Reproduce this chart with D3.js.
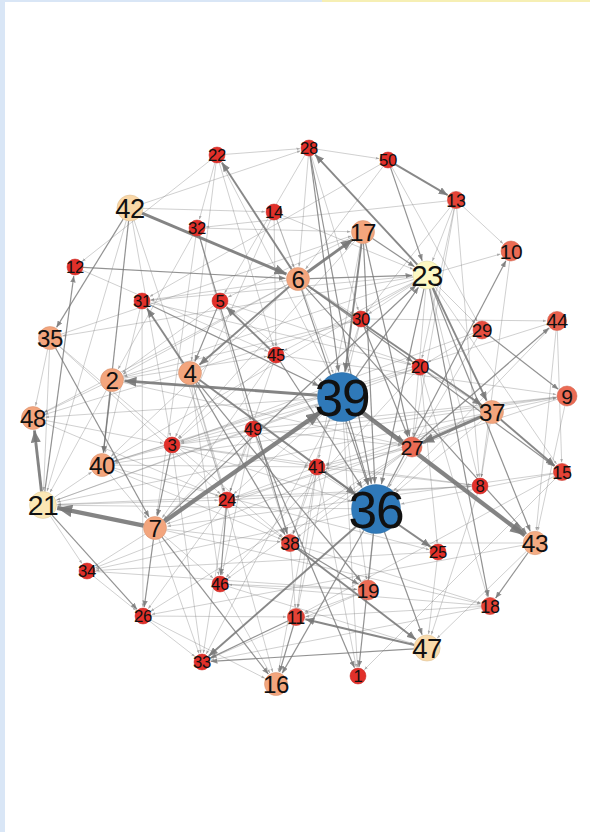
<!DOCTYPE html>
<html>
<head>
<meta charset="utf-8">
<script src="https://cdn.jsdelivr.net/npm/d3@7"></script>
<style>
  body { margin: 0; background: #fff; }
  svg { display: block; }
  .label { font-family: "Liberation Sans", Arial, sans-serif; fill: #111; text-anchor: middle; }
</style>
</head>
<body>
<div id="graph"></div>
<script>
var width = 590,
    height = 832;

// node layout, one entry per node id 1..50
var nodeIds = d3.range(1, 51);
var nodeX = [358, 112, 172, 190, 220, 298, 155, 480, 567, 511,
             296,  75, 456, 274, 562, 276, 363, 490, 368, 420,
              43, 217, 427, 227, 438, 143, 412, 309, 482, 361,
             142, 197, 202,  87,  50, 376, 492, 290, 342, 102,
             317, 130, 535, 557, 276, 220, 427,  33, 253, 388];
var nodeY = [676, 380, 445, 373, 301, 279, 528, 486, 396, 251,
             617, 267, 200, 212, 472, 684, 232, 606, 590, 367,
             505, 155, 275, 500, 552, 616, 447, 148, 330, 319,
             301, 228, 662, 571, 338, 509, 412, 543, 397, 465,
             467, 208, 543, 321, 355, 584, 648, 418, 429, 160];
// centrality score: drives colour, size and label size
var nodeScore = [1, 3, 1, 3, 1, 3, 3, 1, 2, 2,
                 1.3, 1, 1.3, 1, 1.3, 3, 3, 1.3, 2, 1,
                 5, 1, 5.5, 1, 1, 1, 2, 1, 1.5, 1,
                 1, 1, 1, 1, 3, 10, 3, 1.3, 10, 3,
                 1, 4.5, 3.2, 1.8, 1, 1, 4.6, 3, 1, 1];

// directed edges: source, target, weight
var edgeSource = [
  42,42,42,42,42,42,42,42,
  6,22,22,22,22,22,22,
  23,28,28,28,28,28,28,
  50,50,50,50,50,
  13,13,13,13,13,13,13,
  14,14,14,14,14,
  32,32,32,32,32,
  6,17,17,17,17,17,17,17,35,
  36,23,10,
  6,12,6,6,6,6,6,6,6,6,6,6,
  39,7,23,23,23,23,23,23,23,23,23,23,23,23,23,23,
  21,12,
  4,31,31,31,31,
  45,5,5,5,5,
  30,30,30,30,30,30,
  29,29,29,29,
  27,44,44,44,44,
  35,35,35,35,35,
  45,45,45,45,45,
  4,4,4,4,4,4,
  39,2,2,2,2,2,
  7,39,39,39,39,39,39,39,39,39,39,
  20,20,20,20,20,20,20,
  37,37,37,37,37,37,37,37,37,
  9,9,9,9,
  21,48,48,
  49,49,49,49,49,49,49,49,
  3,3,3,3,3,3,
  27,27,27,27,27,
  40,40,40,40,
  41,41,41,41,41,41,
  8,8,8,
  15,15,15,15,
  7,21,21,21,21,21,
  36,36,36,36,36,36,36,36,36,
  24,24,24,24,24,
  7,7,7,7,7,7,7,
  43,43,43,43,
  38,38,38,38,
  25,25,34,34,46,46,46,19,19,26,26,26,18,18,18,
  47,11,11,47
];
var edgeTarget = [
  6,35,40,3,24,28,14,21,
  22,28,32,45,39,12,4,
  28,39,30,6,5,36,50,
  13,23,6,31,29,
  30,23,10,20,8,32,27,
  3,6,39,23,45,
  2,7,49,38,17,
  17,39,23,36,27,3,5,41,17,
  10,10,8,
  4,6,23,37,36,48,31,2,40,30,43,20,
  23,23,37,43,8,29,31,2,35,40,45,30,36,15,18,27,
  12,45,
  31,39,40,26,20,
  5,4,2,39,20,
  39,2,48,27,38,44,
  9,20,3,36,
  44,43,36,40,15,
  7,48,21,38,24,
  36,24,7,9,3,
  38,36,46,19,24,16,
  2,40,21,48,45,27,
  39,43,27,40,11,1,19,36,48,24,33,
  40,15,37,25,46,18,21,
  27,15,9,8,21,7,34,36,41,
  27,49,43,40,
  48,3,24,
  3,7,24,46,36,27,38,1,
  7,8,9,41,33,36,
  38,46,41,24,26,
  41,38,25,7,
  36,38,24,16,11,1,
  21,41,47,
  36,7,11,1,
  21,26,40,24,39,34,
  33,25,16,1,47,21,41,19,34,
  46,38,26,33,8,
  26,33,16,38,18,34,46,
  18,47,38,26,
  47,19,18,11,
  47,34,26,19,16,19,47,11,33,33,16,11,11,46,33,
  11,16,33,33
];
var edgeWeight = [
  4,2,2,1,1,1,1,1,
  3,1,1,1,1,1,1,
  3,2,1,1,1,2,1,
  3,2,1,1,1,
  1,1,1,1,1,1,1,
  1,1,1,1,1,
  1,1,1,2,1,
  4,3,2,2,2,1,1,1,1,
  2,1,1,
  3,2,2,3,2,1,1,1,1,1,2,2,
  2,2,3,2,1,1,1,1,1,1,1,1,2,1,2,1,
  2,1,
  3,2,1,1,1,
  3,2,1,1,1,
  1,1,1,2,1,1,
  2,1,1,1,
  2,1,1,1,1,
  2,1,1,1,1,
  2,1,1,1,1,
  2,3,1,2,1,1,
  4,2,1,1,1,1,
  5,5,2,1,1,1,1,2,1,1,1,
  1,2,1,1,1,1,1,
  4,3,1,1,1,1,1,1,1,
  1,1,1,1,
  4,1,1,
  1,1,1,1,1,1,1,2,
  2,1,1,1,1,1,
  1,1,1,1,1,
  1,1,1,1,
  2,1,1,1,1,1,
  1,1,1,
  1,1,1,1,
  5,2,1,1,1,1,
  3,3,2,2,2,1,1,1,1,
  2,1,1,1,1,
  2,1,2,1,1,1,1,
  2,1,1,1,
  3,2,1,1,
  1,1,1,1,1,1,1,1,1,1,1,1,1,1,1,
  3,2,2,2
];

var nodes = nodeIds.map(function(id, i) {
  return { id: id, x: nodeX[i], y: nodeY[i], score: nodeScore[i] };
});
var byId = new Map(nodes.map(function(d) { return [d.id, d]; }));
var links = edgeSource.map(function(s, i) {
  return { source: byId.get(s), target: byId.get(edgeTarget[i]), weight: edgeWeight[i] };
}).sort(function(a, b) { return a.weight - b.weight; });

var x = d3.scaleLinear().domain(d3.extent(nodeX)).range([33, 567]);
var y = d3.scaleLinear().domain(d3.extent(nodeY)).range([148, 684]);

var color = d3.scaleLinear()
    .domain([1, 3, 5.5, 10])
    .range(["#e2302a", "#f3a57d", "#fdf8c3", "#2f79b9"]);
var radius = d3.scaleLinear()
    .domain([1, 2, 3, 5.5, 10])
    .range([8, 10, 11.5, 14, 24.5]);
var strokeW = d3.scaleOrdinal().domain([1, 2, 3, 4, 5]).range([0.7, 1.2, 1.9, 2.9, 4.3]);
var strokeOp = d3.scaleOrdinal().domain([1, 2, 3, 4, 5]).range([0.5, 0.8, 0.88, 0.9, 0.9]);
var arrowLen = d3.scaleOrdinal().domain([1, 2, 3, 4, 5]).range([3.5, 6.5, 9, 12, 15]);

var svg = d3.select("#graph").append("svg")
    .attr("width", width)
    .attr("height", height);

// faint page edge of the original screenshot
svg.append("rect").attr("x", 0).attr("y", 0).attr("width", 5).attr("height", height).attr("fill", "#d9e6f6");
svg.append("rect").attr("x", 0).attr("y", 0).attr("width", width).attr("height", 2).attr("fill", "#d9e6f6");
svg.append("rect").attr("x", 322).attr("y", 0).attr("width", 268).attr("height", 2).attr("fill", "#f6efb4");

var defs = svg.append("defs");
[1, 2, 3, 4, 5].forEach(function(w) {
  var len = arrowLen(w), half = len * 0.42;
  defs.append("marker")
      .attr("id", "arrow" + w)
      .attr("viewBox", "0 " + (-half) + " " + len + " " + (2 * half))
      .attr("refX", len)
      .attr("refY", 0)
      .attr("markerUnits", "userSpaceOnUse")
      .attr("markerWidth", len)
      .attr("markerHeight", 2 * half)
      .attr("orient", "auto")
    .append("path")
      .attr("d", "M0," + (-half) + "L" + len + ",0L0," + half + "Z")
      .attr("fill", "#777")
      .attr("fill-opacity", strokeOp(w));
});

function ends(d) {
  var x1 = x(d.source.x), y1 = y(d.source.y),
      x2 = x(d.target.x), y2 = y(d.target.y),
      dx = x2 - x1, dy = y2 - y1, dist = Math.sqrt(dx * dx + dy * dy),
      r1 = radius(d.source.score), r2 = radius(d.target.score) + 1;
  return [x1 + dx * r1 / dist, y1 + dy * r1 / dist, x2 - dx * r2 / dist, y2 - dy * r2 / dist];
}

svg.append("g").attr("class", "links")
  .selectAll("line")
  .data(links)
  .enter().append("line")
    .attr("x1", function(d) { return ends(d)[0]; })
    .attr("y1", function(d) { return ends(d)[1]; })
    .attr("x2", function(d) { return ends(d)[2]; })
    .attr("y2", function(d) { return ends(d)[3]; })
    .attr("stroke", "#777")
    .attr("stroke-opacity", function(d) { return strokeOp(d.weight); })
    .attr("stroke-width", function(d) { return strokeW(d.weight); })
    .attr("marker-end", function(d) { return "url(#arrow" + d.weight + ")"; });

var node = svg.append("g").attr("class", "nodes")
  .selectAll("g")
  .data(nodes)
  .enter().append("g")
    .attr("transform", function(d) { return "translate(" + x(d.x) + "," + y(d.y) + ")"; });

node.append("circle")
    .attr("r", function(d) { return radius(d.score); })
    .attr("fill", function(d) { return color(d.score); })
    .attr("stroke", function(d) { return d3.color(color(d.score)).darker(0.4); })
    .attr("stroke-width", 0.5);

node.append("text")
    .attr("class", "label")
    .attr("dy", "0.36em")
    .attr("font-size", function(d) { return radius(d.score) * 2.1; })
    .attr("letter-spacing", function(d) { return -0.04 * radius(d.score); })
    .text(function(d) { return d.id; });
</script>
</body>
</html>
